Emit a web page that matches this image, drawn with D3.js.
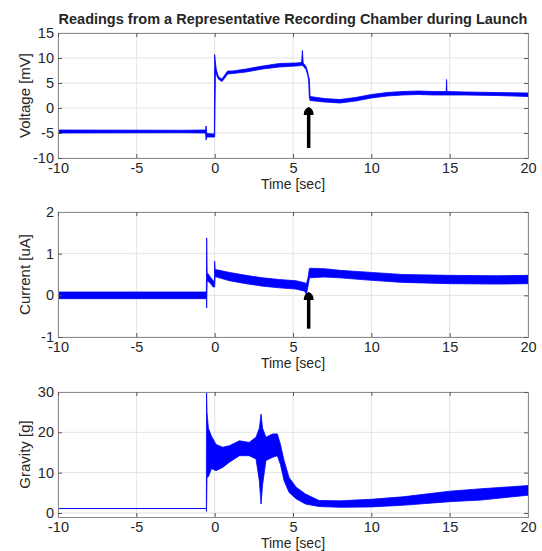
<!DOCTYPE html>
<html>
<head>
<meta charset="utf-8">
<script src="https://cdn.jsdelivr.net/npm/d3@7"></script>
<style>
  body { margin: 0; background: #fff; }
  text { font-family: "Liberation Sans", Arial, sans-serif; fill: #262626; }
</style>
</head>
<body>
<svg></svg>
<script>
// data (band = low/high edge of the noisy trace)
let xTicks = [-10, -5, 0, 5, 10, 15, 20]

let voltTime = [-10, -2, -0.58, -0.55, -0.5, -0.02, 0, 0.05, 0.1, 0.2, 0.3, 0.47, 0.62, 0.83, 1.15, 2, 3.06, 4.13, 5.19, 5.55, 5.6, 5.65, 5.83, 5.94, 6, 6.04, 6.09, 7, 8, 9, 10, 11, 12, 13, 14, 14.78, 14.8, 14.83, 16, 18, 20]
let voltLow  = [-5.0, -4.95, -5.0, -6.4, -5.8, -5.8, -5.8, 7.0, 6.8, 6.0, 5.6, 5.3, 5.9, 6.8, 6.9, 7.2, 7.8, 8.2, 8.4, 8.5, 8.5, 8.4, 7.7, 6.6, 5.5, 2.2, 1.5, 1.2, 1.0, 1.4, 2.0, 2.4, 2.6, 2.7, 2.6, 2.6, 2.6, 2.6, 2.6, 2.5, 2.3]
let voltHigh = [-4.4, -4.45, -4.4, -3.6, -5.1, -5.2, 10.7, 9.0, 7.8, 6.6, 6.1, 5.8, 6.5, 7.4, 7.4, 7.8, 8.4, 8.9, 9.0, 9.1, 11.5, 9.0, 8.3, 7.2, 6.2, 5.8, 2.3, 1.9, 1.7, 2.1, 2.7, 3.1, 3.3, 3.4, 3.3, 3.3, 5.7, 3.3, 3.2, 3.1, 3.0]
let voltTicks = [-10, -5, 0, 5, 10, 15]

let currTime = [-10, -0.53, -0.51, -0.48, -0.3, -0.1, -0.02, 0, 0.03, 0.3, 0.94, 2, 3.06, 4.13, 5.19, 5.75, 5.85, 5.95, 6.05, 7, 8, 10, 12, 15, 18, 20]
let currLow  = [-0.08, -0.08, -0.3, 0.35, 0.3, 0.2, 0.2, 0.2, 0.45, 0.42, 0.35, 0.28, 0.22, 0.18, 0.15, 0.1, 0.02, 0.2, 0.42, 0.44, 0.42, 0.36, 0.31, 0.28, 0.27, 0.28]
let currHigh = [0.08, 0.08, 1.38, 0.55, 0.45, 0.35, 0.33, 0.82, 0.62, 0.6, 0.55, 0.48, 0.42, 0.38, 0.35, 0.3, 0.28, 0.4, 0.65, 0.64, 0.6, 0.55, 0.5, 0.48, 0.47, 0.48]
let currTicks = [-1, 0, 1, 2]

let gravTime = [-10, -0.53, -0.52, -0.49, -0.4, -0.2, 0.09, 0.51, 0.94, 1.58, 2.2, 2.64, 2.85, 2.96, 3.06, 3.27, 3.7, 4.0, 4.2, 4.43, 4.75, 5.2, 5.8, 6.66, 8, 10, 12, 15, 17, 20]
let gravLow  = [1.1, 1.1, 0.4, 8.8, 9, 11, 10.5, 11.3, 12.6, 14.2, 14.2, 13.4, 8, 2.2, 7, 13, 13.8, 14.2, 12, 8, 5.1, 3.5, 2.2, 1.6, 1.4, 1.5, 1.9, 2.8, 3.2, 4.4]
let gravHigh = [1.1, 1.1, 31, 25, 21, 19, 17, 16.3, 16.7, 17.9, 17.5, 18.8, 21, 24.5, 21, 18.8, 19.6, 19.6, 17, 13, 8.8, 6.4, 4.7, 3.1, 3.0, 3.4, 4.0, 5.4, 6.0, 6.8]
let gravTicks = [0, 10, 20, 30]

// arrows: time, tail value, tip value
let voltArrow = [6, -8, 0.2]
let currArrow = [6, -0.8, 0.08]

let width = 542
let height = 551
let left = 58
let right = 528

let svg = d3.select('svg')
    .attr('width', width)
    .attr('height', height)

svg.append('text')
    .text('Readings from a Representative Recording Chamber during Launch')
    .attr('x', (left + right) / 2)
    .attr('y', 24)
    .attr('text-anchor', 'middle')
    .style('font-weight', 'bold')
    .style('font-size', '14.5px')

let xScale = d3.scaleLinear().domain([-10, 20]).range([left, right])

function panel(id, top, yDomain, yTicks, label, time, low, high, arrow) {
    let bottom = top + 125
    let yScale = d3.scaleLinear().domain(yDomain).range([bottom, top])
    let g = svg.append('g')

    // grid
    g.selectAll('.gx').data(xTicks).enter().append('line')
        .attr('x1', d => xScale(d)).attr('x2', d => xScale(d))
        .attr('y1', top).attr('y2', bottom)
        .attr('stroke', '#e3e3e3')
    g.selectAll('.gy').data(yTicks).enter().append('line')
        .attr('x1', left).attr('x2', right)
        .attr('y1', d => yScale(d)).attr('y2', d => yScale(d))
        .attr('stroke', '#e3e3e3')

    // trace
    svg.append('clipPath').attr('id', 'clip' + id)
        .append('rect').attr('x', left).attr('y', top)
        .attr('width', right - left).attr('height', bottom - top)
    let pts = time.map((t, i) => [t, low[i], high[i]])
    g.append('path')
        .datum(pts)
        .attr('clip-path', 'url(#clip' + id + ')')
        .attr('fill', '#0000ff')
        .attr('stroke', '#0000ff')
        .attr('stroke-width', 0.8)
        .attr('d', d3.area()
            .x(d => xScale(d[0]))
            .y0(d => yScale(d[1]))
            .y1(d => yScale(d[2])))

    // axes, ticks inside
    let fmt = d => String(d)
    let xAxis = d3.axisBottom(xScale).tickValues(xTicks).tickSize(-4).tickPadding(5).tickFormat(fmt)
    let yAxis = d3.axisLeft(yScale).tickValues(yTicks).tickSize(-4).tickPadding(4).tickFormat(fmt)
    g.append('g').attr('transform', 'translate(0,' + bottom + ')').call(xAxis)
    g.append('g').attr('transform', 'translate(' + left + ',0)').call(yAxis)
    g.append('g').attr('transform', 'translate(0,' + top + ')')
        .call(d3.axisTop(xScale).tickValues(xTicks).tickSize(-4).tickFormat(''))
    g.append('g').attr('transform', 'translate(' + right + ',0)')
        .call(d3.axisRight(yScale).tickValues(yTicks).tickSize(-4).tickFormat(''))
    g.selectAll('.domain').attr('stroke', '#8c8c8c')
    g.selectAll('.tick line').attr('stroke', '#555')
    g.selectAll('.tick text').style('font-size', '14.5px').attr('fill', '#262626')
        .style('font-family', '"Liberation Sans", Arial, sans-serif')

    g.append('text')
        .text('Time [sec]')
        .attr('x', (left + right) / 2)
        .attr('y', bottom + 31)
        .attr('text-anchor', 'middle')
        .style('font-size', '14px')
    g.append('text')
        .text(label)
        .attr('transform', 'translate(30,' + (top + bottom) / 2 + ') rotate(-90)')
        .attr('text-anchor', 'middle')
        .style('font-size', '15px')

    // black arrow
    if (arrow) {
        let ax = xScale(arrow[0])
        let ty = yScale(arrow[1])
        let hy = yScale(arrow[2])
        g.append('line')
            .attr('x1', ax).attr('x2', ax)
            .attr('y1', ty).attr('y2', hy + 6)
            .attr('stroke', '#000').attr('stroke-width', 3.5)
        g.append('path')
            .attr('d', 'M' + ax + ',' + hy + ' Q' + (ax + 5) + ',' + (hy + 2) + ' ' + (ax + 5) + ',' + (hy + 8)
                + ' L' + (ax - 5) + ',' + (hy + 8) + ' Q' + (ax - 5) + ',' + (hy + 2) + ' ' + ax + ',' + hy + 'Z')
            .attr('fill', '#000')
    }
}

panel('v', 33, [-10, 15], voltTicks, 'Voltage [mV]', voltTime, voltLow, voltHigh, voltArrow)
panel('c', 212, [-1, 2], currTicks, 'Current [uA]', currTime, currLow, currHigh, currArrow)
panel('g', 392, [-1, 30], gravTicks, 'Gravity [g]', gravTime, gravLow, gravHigh, null)
</script>
</body>
</html>
